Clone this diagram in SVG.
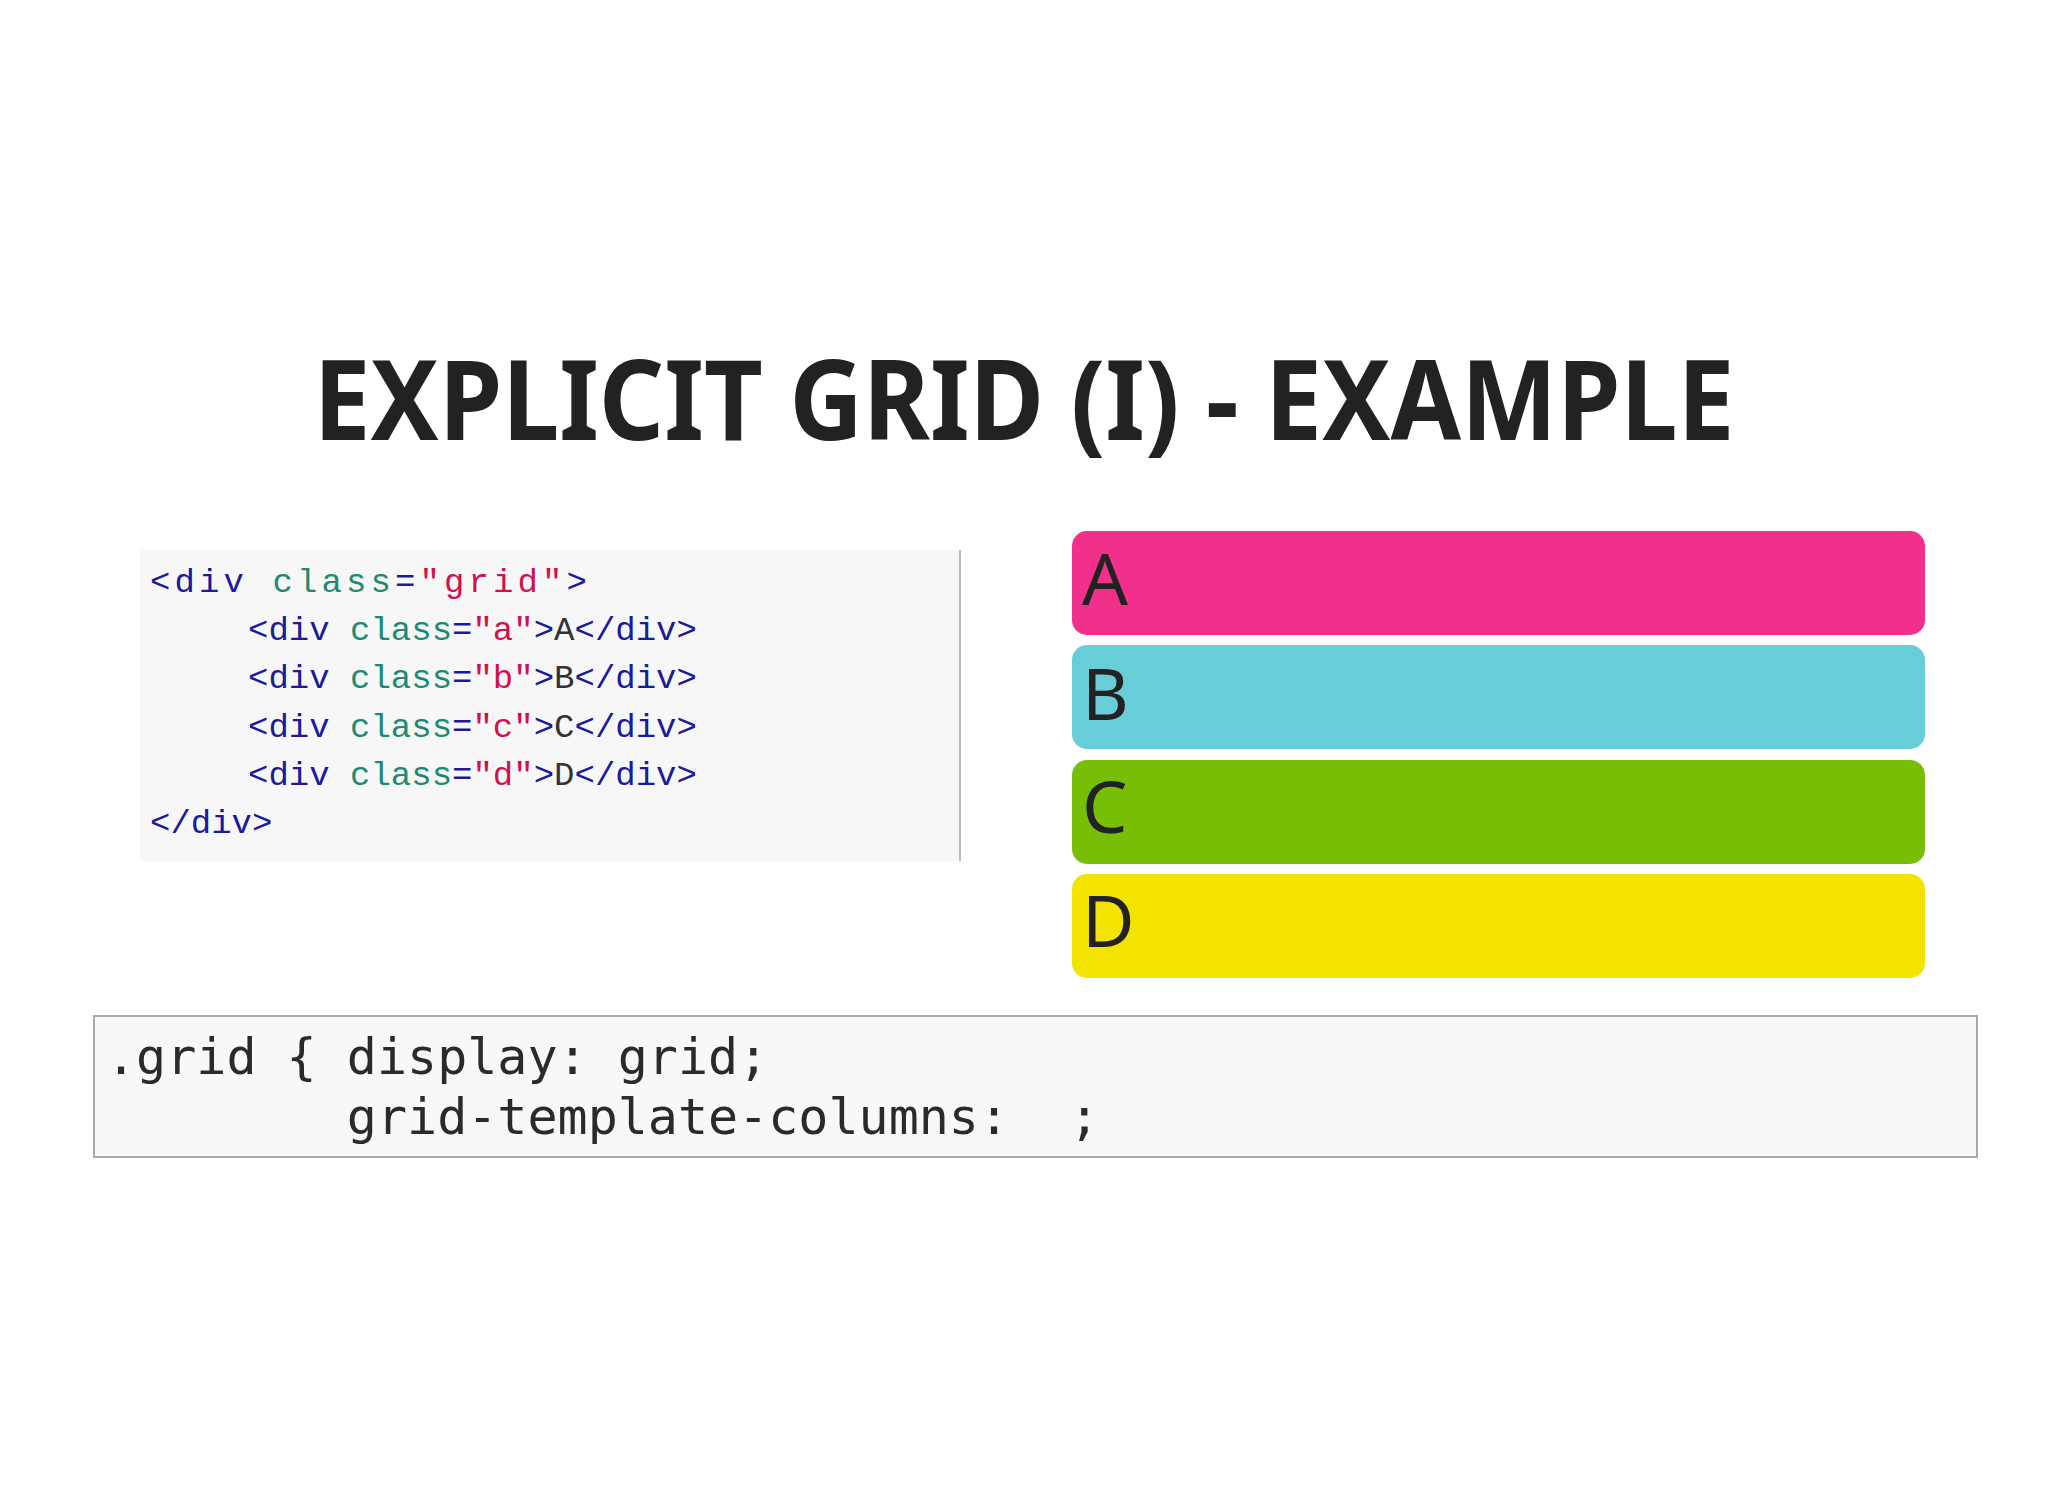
<svg xmlns="http://www.w3.org/2000/svg" width="2048" height="1492" viewBox="0 0 2048 1492">
<style>
.t{font-family:"Liberation Mono",monospace;font-size:34px;fill:#333}
.tag{fill:#1a1a9a}.att{fill:#1e8a70}.str{fill:#d01050}
.css{font-family:"DejaVu Sans Mono",monospace;font-size:50px;fill:#2a2a2a}
.lbl{font-family:"Noto Sans","Liberation Sans",sans-serif;font-size:72px;fill:#222}
</style>
<defs><clipPath id="cb"><rect x="95" y="1017" width="1881" height="139"/></clipPath></defs>
<rect width="2048" height="1492" fill="#fff"/>
<text x="1024" y="440" text-anchor="middle" font-family="Noto Sans, Liberation Sans, sans-serif" font-weight="bold" font-size="112" fill="#222" textLength="1421" lengthAdjust="spacingAndGlyphs">EXPLICIT GRID (I) - EXAMPLE</text>
<g id="html">
<rect x="140" y="550" width="820" height="311" fill="#f7f7f7"/>
<line x1="960" y1="550" x2="960" y2="861" stroke="#bbb" stroke-width="2"/>
<text class="t" x="150" y="592" textLength="437"><tspan class="tag">&lt;div</tspan> <tspan class="att">class</tspan><tspan class="tag">=</tspan><tspan class="str">"grid"</tspan><tspan class="tag">&gt;</tspan></text>
<text class="t" x="248" y="640"><tspan class="tag">&lt;div</tspan> <tspan class="att">class</tspan><tspan class="tag">=</tspan><tspan class="str">"a"</tspan><tspan class="tag">&gt;</tspan>A<tspan class="tag">&lt;/div&gt;</tspan></text>
<text class="t" x="248" y="688"><tspan class="tag">&lt;div</tspan> <tspan class="att">class</tspan><tspan class="tag">=</tspan><tspan class="str">"b"</tspan><tspan class="tag">&gt;</tspan>B<tspan class="tag">&lt;/div&gt;</tspan></text>
<text class="t" x="248" y="737"><tspan class="tag">&lt;div</tspan> <tspan class="att">class</tspan><tspan class="tag">=</tspan><tspan class="str">"c"</tspan><tspan class="tag">&gt;</tspan>C<tspan class="tag">&lt;/div&gt;</tspan></text>
<text class="t" x="248" y="785"><tspan class="tag">&lt;div</tspan> <tspan class="att">class</tspan><tspan class="tag">=</tspan><tspan class="str">"d"</tspan><tspan class="tag">&gt;</tspan>D<tspan class="tag">&lt;/div&gt;</tspan></text>
<text class="t" x="150" y="833"><tspan class="tag">&lt;/div&gt;</tspan></text>
</g>
<g id="A"><rect x="1072" y="531" width="853" height="104" rx="15" fill="#f0308a"/><text class="lbl" x="1082" y="605">A</text></g>
<g id="B"><rect x="1072" y="645" width="853" height="104" rx="15" fill="#67cdd8"/><text class="lbl" x="1082" y="720">B</text></g>
<g id="C"><rect x="1072" y="760" width="853" height="104" rx="15" fill="#78be07"/><text class="lbl" x="1082" y="833">C</text></g>
<g id="D"><rect x="1072" y="874" width="853" height="104" rx="15" fill="#f2e300"/><text class="lbl" x="1082" y="947">D</text></g>
<g id="css">
<rect x="94" y="1016" width="1883" height="141" fill="#f8f8fa" stroke="#aaa" stroke-width="2"/>
<g clip-path="url(#cb)">
<text class="css" x="106" y="1074" xml:space="preserve">.grid { display: grid;</text>
<text class="css" x="106" y="1134" xml:space="preserve">        grid-template-columns:  ;</text>
<text class="css" x="106" y="1194" xml:space="preserve">        grid-template-rows:     ;</text>
</g>
</g>
</svg>
